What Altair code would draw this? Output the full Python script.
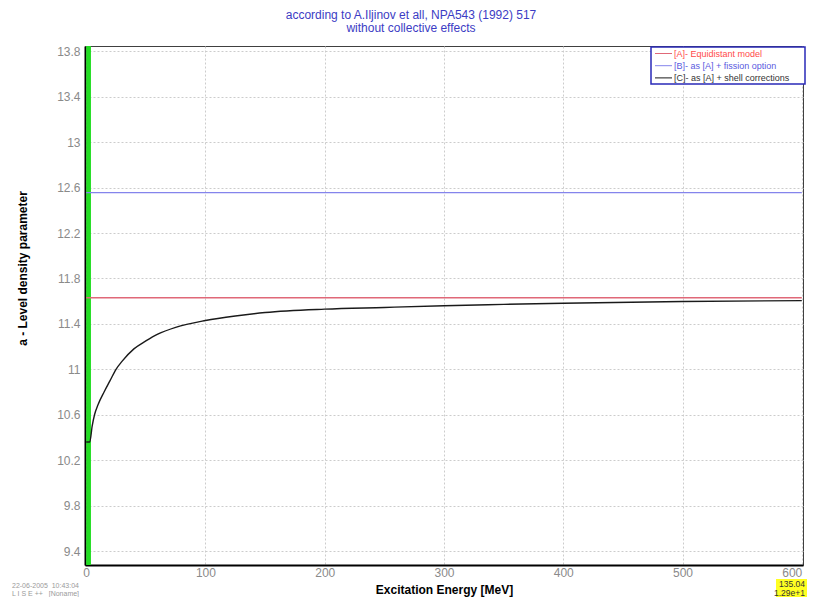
import altair as alt
import pandas as pd

# ---- data ----
curve_x = [0, 3, 5, 7, 10, 15, 20, 25, 30, 40, 50, 60, 75, 100, 125, 150, 200,
           250, 300, 350, 400, 500, 600]
curve_y = [10.36, 10.36, 10.50, 10.60, 10.69, 10.80, 10.90, 11.00, 11.07, 11.18,
           11.25, 11.31, 11.37, 11.43, 11.47, 11.50, 11.53, 11.545, 11.56, 11.572,
           11.582, 11.597, 11.605]
x_span = [0, 600]
equidistant_a = 11.63
fission_a = 12.556
green_band = [0, 4]

x_ticks = [0, 100, 200, 300, 400, 500, 600]
y_ticks = [9.4, 9.8, 10.2, 10.6, 11.0, 11.4, 11.8, 12.2, 12.6, 13.0, 13.4, 13.8]

series_names = ["[A]- Equidistant model", "[B]- as [A] + fission option",
                "[C]- as [A] + shell corrections"]
series_line_colors = ["#e06878", "#8484ec", "#1a1a1a"]
series_text_colors = ["#ff4a4a", "#5a5ae0", "#333333"]

title_lines = ["according to A.Iljinov et all, NPA543 (1992) 517", "without collective effects"]
stamp_lines = ["22-06-2005\u00a0\u00a010:43:04", "L I S E ++\u00a0\u00a0\u00a0[Noname]"]
corner_values = ["135.04", "1.29e+1"]

# ---- tables ----
rows = []
for xv in x_span:
    rows.append({"series": series_names[0], "E": xv, "a": equidistant_a})
for xv in x_span:
    rows.append({"series": series_names[1], "E": xv, "a": fission_a})
for xv, yv in zip(curve_x, curve_y):
    rows.append({"series": series_names[2], "E": xv, "a": yv})
df_lines = pd.DataFrame(rows)
df_green = pd.DataFrame({"x0": [green_band[0]], "x1": [green_band[1]]})
one = pd.DataFrame({"k": [0]})

W, H = 718, 519
FONT = "Liberation Sans"

xscale = alt.Scale(domain=[-1, 601], nice=False, zero=False)
yscale = alt.Scale(domain=[9.277, 13.847], nice=False, zero=False)
last_x = x_ticks[-1]
xaxis = alt.Axis(values=x_ticks, title="Excitation Energy [MeV]", format="d",
                 labelPadding=2, titlePadding=6,
                 labelAlign={"condition": {"test": f"datum.value == {last_x}", "value": "right"},
                             "value": "center"})
yaxis = alt.Axis(values=y_ticks, title="a - Level density parameter", format="~g",
                 labelPadding=5, titleX=-63, titleY=222, titleAlign="center",
                 titleBaseline="middle", titleAngle=270)

green = alt.Chart(df_green).mark_rect(color="#22dd22").encode(
    x=alt.X("x0:Q", scale=xscale, axis=xaxis),
    x2="x1:Q",
    y=alt.value(0),
    y2=alt.value(H),
)

lines = alt.Chart(df_lines).mark_line(strokeWidth=1.4, interpolate="monotone").encode(
    x=alt.X("E:Q", scale=xscale, axis=xaxis),
    y=alt.Y("a:Q", scale=yscale, axis=yaxis),
    color=alt.Color("series:N", scale=alt.Scale(domain=series_names, range=series_line_colors),
                    legend=None),
)

layers = [green, lines]

# custom legend box (top right)
layers.append(alt.Chart(one).mark_rect(fill="white", stroke="#2a2ab8", strokeWidth=1.5).encode(
    x=alt.value(566), x2=alt.value(720), y=alt.value(1), y2=alt.value(38)))
for i, (name, lc, tc) in enumerate(zip(series_names, series_line_colors, series_text_colors)):
    yy = 7.5 + 12.2 * i
    layers.append(alt.Chart(one).mark_rule(color=lc, strokeWidth=1).encode(
        x=alt.value(570), x2=alt.value(587), y=alt.value(yy)))
    layers.append(alt.Chart(one).mark_text(text=name, color=tc, font=FONT, fontSize=9,
                                           align="left", baseline="middle").encode(
        x=alt.value(589), y=alt.value(yy)))

# bottom-left stamp
for i, s in enumerate(stamp_lines):
    layers.append(alt.Chart(one).mark_text(text=s, color="#9a9a9a", font=FONT, fontSize=7,
                                           align="left", baseline="middle").encode(
        x=alt.value(-73), y=alt.value(540 + 8 * i)))

# bottom-right yellow box
layers.append(alt.Chart(one).mark_rect(fill="#ffff22").encode(
    x=alt.value(691), x2=alt.value(722), y=alt.value(533), y2=alt.value(552)))
for i, v in enumerate(corner_values):
    layers.append(alt.Chart(one).mark_text(text=v, color="#333333", font=FONT,
                                           fontSize=8.5, align="right", baseline="middle").encode(
        x=alt.value(720), y=alt.value(538 + 8.5 * i)))

chart = alt.layer(*layers).properties(
    width=W, height=H,
    title=alt.TitleParams(title_lines, color="#3c3cc4", font=FONT, fontSize=12,
                          fontWeight="normal", anchor="middle", dx=-33, offset=10,
                          lineHeight=13),
    autosize=alt.AutoSizeParams(type="none"),
    padding={"left": 77, "top": 38, "right": 4, "bottom": 32},
).configure_view(stroke="#404040", strokeWidth=1).configure_axis(
    grid=True, gridColor="#cccccc", gridDash=[2, 2], ticks=False,
    labelColor="#8a8a8a", labelFont=FONT, labelFontSize=12,
    domainColor="black", domainWidth=2,
    titleFont=FONT, titleFontSize=12, titleFontWeight="bold", titleColor="black",
)

chart.save("out.html", embed_options={"renderer": "svg", "actions": False})
